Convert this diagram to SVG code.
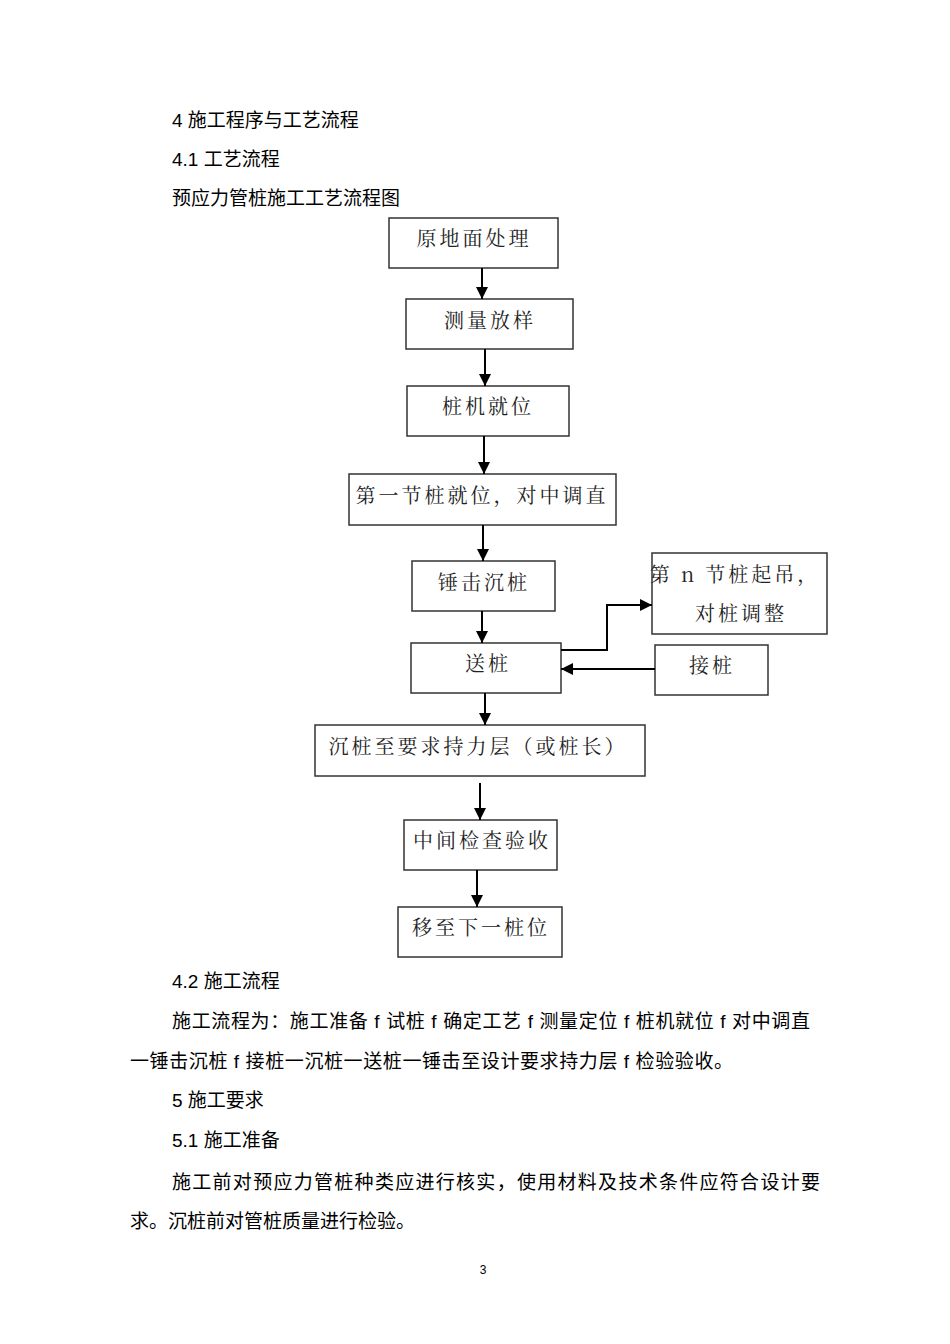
<svg xmlns="http://www.w3.org/2000/svg" width="950" height="1344" viewBox="0 0 950 1344">
<style>
.t{font-family:"Liberation Sans","Noto Sans CJK SC",sans-serif;font-size:19px;fill:#000}
.b{fill:#fff;stroke:#333;stroke-width:1.5}
.l{font-family:"Noto Serif CJK SC","Noto Sans CJK SC",serif;font-size:20px;fill:#222;text-anchor:middle;letter-spacing:3px}
.c{fill:none;stroke:#000;stroke-width:2}
</style>
<defs><marker id="a" viewBox="0 0 10 10" refX="10" refY="5" markerWidth="6" markerHeight="6" orient="auto"><path d="M0,0L10,5L0,10z" fill="#000"/></marker></defs>
<rect width="950" height="1344" fill="#fff"/>
<text class="t" x="172" y="127">4  施工程序与工艺流程</text>
<text class="t" x="172" y="166">4.1 工艺流程</text>
<text class="t" x="172" y="205">预应力管桩施工工艺流程图</text>
<g id="n1"><rect class="b" x="389" y="218" width="169" height="50"/><text class="l" x="474" y="246">原地面处理</text></g>
<g id="n2"><rect class="b" x="406" y="299" width="167" height="50"/><text class="l" x="490" y="328">测量放样</text></g>
<g id="n3"><rect class="b" x="407" y="386" width="162" height="50"/><text class="l" x="488" y="414">桩机就位</text></g>
<g id="n4"><rect class="b" x="349" y="474" width="267" height="51"/><text class="l" x="482" y="503">第一节桩就位，对中调直</text></g>
<g id="n5"><rect class="b" x="412" y="561" width="143" height="50"/><text class="l" x="484" y="590">锤击沉桩</text></g>
<g id="n6"><rect class="b" x="652" y="553" width="175" height="81"/><text class="l" x="735" y="582">第 n 节桩起吊，</text><text class="l" x="741" y="621">对桩调整</text></g>
<g id="n7"><rect class="b" x="411" y="643" width="150" height="50"/><text class="l" x="488" y="671">送桩</text></g>
<g id="n8"><rect class="b" x="655" y="645" width="113" height="50"/><text class="l" x="712" y="673">接桩</text></g>
<g id="n9"><rect class="b" x="315" y="725" width="330" height="51"/><text class="l" x="478" y="754">沉桩至要求持力层（或桩长）</text></g>
<g id="n10"><rect class="b" x="404" y="820" width="153" height="50"/><text class="l" x="482" y="848">中间检查验收</text></g>
<g id="n11"><rect class="b" x="398" y="907" width="164" height="50"/><text class="l" x="481" y="935">移至下一桩位</text></g>
<g id="connectors">
<path class="c" d="M482,268V299" marker-end="url(#a)"/>
<path class="c" d="M485,349V386" marker-end="url(#a)"/>
<path class="c" d="M484,436V474" marker-end="url(#a)"/>
<path class="c" d="M483,525V561" marker-end="url(#a)"/>
<path class="c" d="M482,611V643" marker-end="url(#a)"/>
<path class="c" d="M485,693V725" marker-end="url(#a)"/>
<path class="c" d="M480,783V820" marker-end="url(#a)"/>
<path class="c" d="M477,870V907" marker-end="url(#a)"/>
<path class="c" d="M561,650H607V605H652" marker-end="url(#a)"/>
<path class="c" d="M655,669H561" marker-end="url(#a)"/>
</g>
<text class="t" x="172" y="988">4.2 施工流程</text>
<text class="t" x="172" y="1028" textLength="638">施工流程为：施工准备 f 试桩 f 确定工艺 f 测量定位 f 桩机就位 f 对中调直</text>
<text class="t" x="130" y="1068" textLength="603">一锤击沉桩 f 接桩一沉桩一送桩一锤击至设计要求持力层 f 检验验收。</text>
<text class="t" x="172" y="1107">5  施工要求</text>
<text class="t" x="172" y="1147">5.1 施工准备</text>
<text class="t" x="172" y="1189" textLength="648">施工前对预应力管桩种类应进行核实，使用材料及技术条件应符合设计要</text>
<text class="t" x="130" y="1228">求。沉桩前对管桩质量进行检验。</text>
<text x="483" y="1274" font-family="Liberation Sans,sans-serif" font-size="12" text-anchor="middle">3</text>
</svg>
